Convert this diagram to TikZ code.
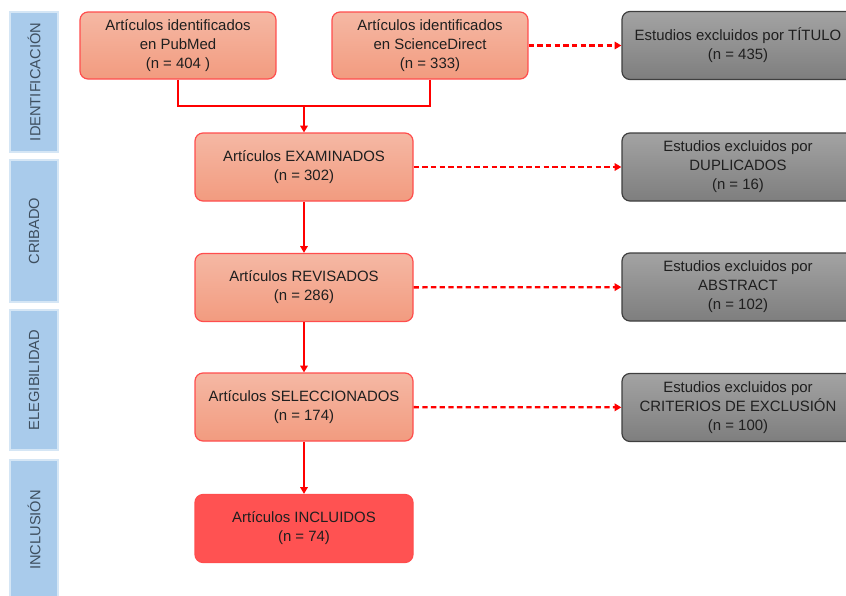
\documentclass[tikz,border=0pt]{standalone}
\usepackage{fontspec}
\setmainfont{Liberation Sans}
\usetikzlibrary{arrows.meta}

\definecolor{rojo}{HTML}{FF0000}
\definecolor{bordeCaja}{HTML}{FF4D4D}
\definecolor{salmonA}{HTML}{F5B8A4}
\definecolor{salmonB}{HTML}{F29B7F}
\definecolor{rojoFuerte}{HTML}{FF5252}
\definecolor{grisA}{HTML}{A3A3A3}
\definecolor{grisB}{HTML}{7E7E7E}
\definecolor{grisBorde}{HTML}{3F3F3F}
\definecolor{azulFase}{HTML}{A9CBEB}
\definecolor{azulBorde}{HTML}{D5E6F5}
\definecolor{textoFase}{HTML}{3E4E5E}

\begin{document}
\begin{tikzpicture}[x=0.75pt, y=-0.75pt,
    texto/.style={align=center, text=black!88, font=\fontsize{11.2}{14.2}\selectfont},
    caja/.style={texto, draw=bordeCaja, line width=0.9pt, rounded corners=6pt,
        top color=salmonA, bottom color=salmonB},
    corta/.style={minimum width=147pt, minimum height=50.25pt},
    ancha/.style={minimum width=163.5pt, minimum height=51pt},
    excluido/.style={texto, draw=grisBorde, line width=0.9pt, rounded corners=6pt,
        top color=grisA, bottom color=grisB, minimum width=174pt, minimum height=51pt},
    linea/.style={rojo, line width=1.7pt},
    flecha/.style={linea, -{Triangle[length=5pt, width=5.5pt]}},
    discont/.style={flecha, dash pattern=on 4pt off 2.5pt}]

    \useasboundingbox (0,0) rectangle (846,596);
    \clip (0,0) rectangle (846,596);

    % Fases a la izquierda
    \foreach \ya/\yb/\fase in {12/152/IDENTIFICACIÓN, 160/302/CRIBADO, 310/450/ELEGIBILIDAD, 460/600/INCLUSIÓN} {
        \draw[fill=azulFase, draw=azulBorde, line width=1.5pt] (10,\ya) rectangle (58,\yb);
        \node[rotate=90, text=textoFase, font=\fontsize{11}{12}\selectfont] at (34,{(\ya+\yb)/2}) {\fase};
    }

    % Fuentes de datos
    \node[caja, corta] (pubmed) at (178,45.5) {Artículos identificados\\en PubMed\\(n = 404 )};
    \node[caja, corta] (sdirect) at (430,45.5) {Artículos identificados\\en ScienceDirect\\(n = 333)};
    \coordinate (union) at (304,106);

    % Cajas centrales
    \foreach \nom/\yy/\txt in {exam/167/{Artículos EXAMINADOS\\(n = 302)},
                               revis/287.5/{Artículos REVISADOS\\(n = 286)},
                               selec/407/{Artículos SELECCIONADOS\\(n = 174)}}
        \node[caja, ancha] (\nom) at (304,\yy) {\txt};
    \node[caja, ancha, top color=rojoFuerte, bottom color=rojoFuerte] (incl) at (304,528.5) {Artículos INCLUIDOS\\(n = 74)};

    % Estudios excluidos
    \foreach \nom/\yy/\txt in {titulo/45.5/{Estudios excluidos por TÍTULO\\(n = 435)},
                               dupli/167/{Estudios excluidos por\\DUPLICADOS\\(n = 16)},
                               abstr/287/{Estudios excluidos por\\ABSTRACT\\(n = 102)},
                               crit/407.5/{Estudios excluidos por\\CRITERIOS DE EXCLUSIÓN\\(n = 100)}}
        \node[excluido] (\nom) at (738,\yy) {\txt};

    % Conexiones
    \draw[linea] (pubmed.south) |- (union) -| (sdirect.south);
    \draw[flecha] (union) -- (exam.north);
    \foreach \a/\b in {exam/revis, revis/selec, selec/incl}
        \draw[flecha] (\a) -- (\b);
    \foreach \a/\b in {sdirect/titulo, exam/dupli, revis/abstr, selec/crit}
        \draw[discont] (\a) -- (\b);
\end{tikzpicture}
\end{document}
